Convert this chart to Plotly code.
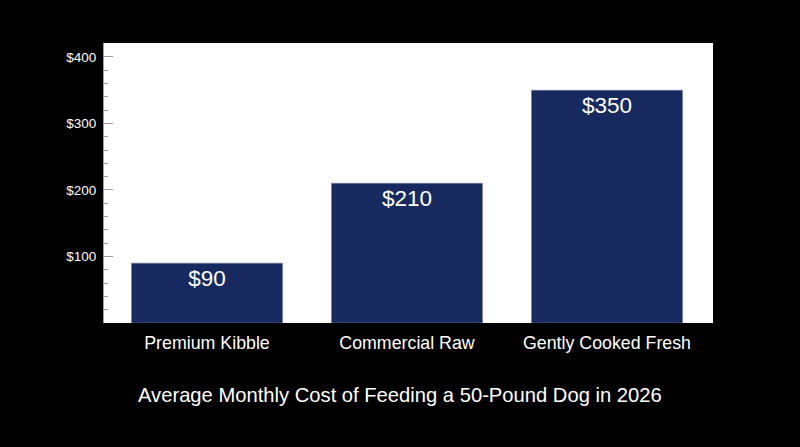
import plotly.graph_objects as go

categories = ["Premium Kibble", "Commercial Raw", "Gently Cooked Fresh"]
values = [90, 210, 350]
labels = ["$90", "$210", "$350"]
tick_vals = [100, 200, 300, 400]
tick_text = ["$100", "$200", "$300", "$400"]
title_text = "Average Monthly Cost of Feeding a 50-Pound Dog in 2026"

FONT = "Liberation Sans, Arial, sans-serif"

fig = go.Figure(
    go.Bar(
        x=categories,
        y=values,
        text=labels,
        textposition="inside",
        insidetextanchor="end",
        textfont=dict(color="white", size=22.5, family=FONT),
        marker=dict(color="#172a5f", line=dict(color="#6f7fa3", width=0.6)),
        width=0.755,
        cliponaxis=False,
    )
)

fig.update_layout(
    width=800,
    height=447,
    paper_bgcolor="black",
    plot_bgcolor="white",
    margin=dict(l=104, r=87, t=43, b=124),
    showlegend=False,
    font=dict(family=FONT, color="white"),
    xaxis=dict(
        range=[-0.515, 2.53],
        showgrid=False,
        ticks="",
        tickfont=dict(size=17.8, color="white", family=FONT),
        ticklabelstandoff=7,
        showline=False,
        zeroline=False,
    ),
    yaxis=dict(
        range=[0, 421],
        tickvals=tick_vals,
        ticktext=tick_text,
        showgrid=False,
        zeroline=False,
        ticks="inside",
        ticklen=9,
        tickwidth=1,
        tickcolor="#a0a0a0",
        showline=True,
        linecolor="#a0a0a0",
        linewidth=1,
        ticklabelstandoff=4,
        tickfont=dict(size=13.5, color="white", family=FONT),
        minor=dict(
            ticks="inside",
            ticklen=4,
            tickcolor="#a0a0a0",
            dtick=20,
            tick0=0,
        ),
    ),
    annotations=[
        dict(
            text=title_text,
            xref="paper",
            yref="paper",
            x=0.486,
            y=-0.257,
            xanchor="center",
            yanchor="middle",
            showarrow=False,
            font=dict(size=20.2, color="white", family=FONT),
        )
    ],
)

fig.write_html(
    "out.html",
    config={"displayModeBar": False},
    post_script="document.body.style.margin='0';document.body.style.background='black';",
)
